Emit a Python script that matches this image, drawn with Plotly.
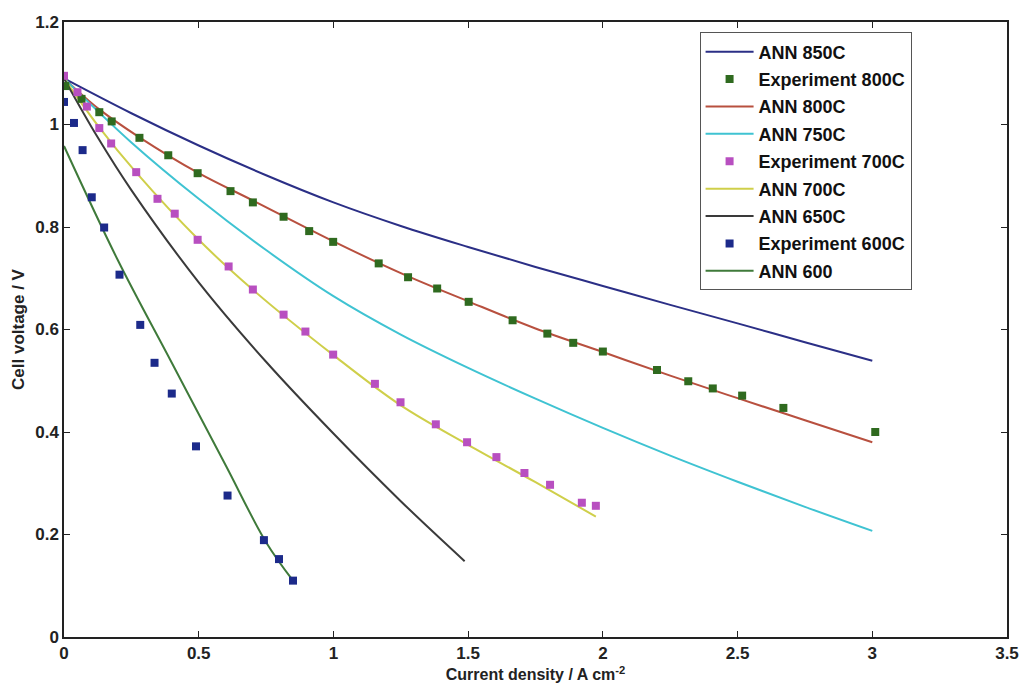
import plotly.graph_objects as go

# ---------------- data ----------------
ann850_x = [0, 0.25, 0.5, 0.75, 1.0, 1.25, 1.5, 1.75, 2.0, 2.25, 2.5, 2.75, 3.0]
ann850_y = [1.09, 1.022, 0.959, 0.901, 0.848, 0.802, 0.761, 0.722, 0.685, 0.648, 0.612, 0.575, 0.539]

exp800_x = [0.005, 0.065, 0.131, 0.177, 0.280, 0.387, 0.496, 0.618, 0.701, 0.815, 0.910, 0.999,
            1.168, 1.277, 1.385, 1.502, 1.665, 1.794, 1.890, 2.000, 2.201, 2.317, 2.408, 2.517,
            2.670, 3.011]
exp800_y = [1.075, 1.050, 1.024, 1.006, 0.974, 0.940, 0.905, 0.870, 0.848, 0.820, 0.792, 0.771,
            0.729, 0.702, 0.680, 0.654, 0.618, 0.592, 0.574, 0.557, 0.521, 0.499, 0.485, 0.471,
            0.447, 0.400]

ann800_x = [0, 0.13, 0.28, 0.5, 0.7, 1.0, 1.25, 1.5, 1.75, 2.0, 2.25, 2.5, 2.75, 3.0]
ann800_y = [1.09, 1.03, 0.975, 0.905, 0.852, 0.772, 0.710, 0.655, 0.602, 0.556, 0.510, 0.466, 0.423, 0.380]

ann750_x = [0, 0.25, 0.5, 0.75, 1.0, 1.25, 1.5, 1.75, 2.0, 2.25, 2.5, 2.75, 3.0]
ann750_y = [1.09, 0.965, 0.855, 0.755, 0.665, 0.590, 0.525, 0.465, 0.408, 0.354, 0.303, 0.254, 0.207]

exp700_x = [0.0, 0.05, 0.085, 0.131, 0.175, 0.268, 0.347, 0.411, 0.496, 0.611, 0.701, 0.815,
            0.896, 0.999, 1.154, 1.249, 1.380, 1.496, 1.605, 1.709, 1.804, 1.922, 1.974]
exp700_y = [1.095, 1.063, 1.035, 0.993, 0.963, 0.907, 0.855, 0.826, 0.775, 0.723, 0.678, 0.629,
            0.596, 0.551, 0.494, 0.458, 0.415, 0.380, 0.351, 0.320, 0.297, 0.262, 0.256]

ann700_x = [0, 0.13, 0.27, 0.5, 0.7, 1.0, 1.25, 1.5, 1.75, 1.974]
ann700_y = [1.09, 0.995, 0.905, 0.775, 0.678, 0.550, 0.452, 0.375, 0.302, 0.235]

ann650_x = [0, 0.125, 0.25, 0.5, 0.75, 1.0, 1.25, 1.487]
ann650_y = [1.09, 0.975, 0.872, 0.692, 0.537, 0.397, 0.265, 0.148]

exp600_x = [0.0, 0.037, 0.069, 0.103, 0.149, 0.206, 0.283, 0.336, 0.400, 0.490, 0.607, 0.742,
            0.798, 0.850]
exp600_y = [1.044, 1.003, 0.950, 0.858, 0.799, 0.707, 0.609, 0.535, 0.475, 0.372, 0.276, 0.189,
            0.152, 0.110]

ann600_x = [0, 0.2, 0.4, 0.6, 0.75, 0.85]
ann600_y = [0.958, 0.735, 0.535, 0.335, 0.185, 0.110]

x_ticks = [0, 0.5, 1, 1.5, 2, 2.5, 3, 3.5]
x_tick_labels = ["0", "0.5", "1", "1.5", "2", "2.5", "3", "3.5"]
y_ticks = [0, 0.2, 0.4, 0.6, 0.8, 1.0, 1.2]
y_tick_labels = ["0", "0.2", "0.4", "0.6", "0.8", "1", "1.2"]

# ---------------- figure ----------------
FONT = "Liberation Sans"
fig = go.Figure()

def add_line(x, y, name, color, rank):
    fig.add_trace(go.Scatter(x=x, y=y, mode="lines", name=name, legendgroup=name,
                             legendrank=rank,
                             line=dict(color=color, width=2, shape="spline", smoothing=1.0)))

def add_pts(x, y, name, color, rank):
    fig.add_trace(go.Scatter(x=x, y=y, mode="markers", name=name, legendgroup=name,
                             legendrank=rank,
                             marker=dict(symbol="square", size=8, color=color,
                                         line=dict(width=0))))

add_line(ann850_x, ann850_y, "ANN 850C", "#2b2f86", 1)
add_line(ann800_x, ann800_y, "ANN 800C", "#b8503f", 3)
add_line(ann750_x, ann750_y, "ANN 750C", "#3fc3d2", 4)
add_line(ann700_x, ann700_y, "ANN 700C", "#cfcf4a", 6)
add_line(ann650_x, ann650_y, "ANN 650C", "#3a3a3a", 7)
add_line(ann600_x, ann600_y, "ANN 600", "#3f7a3a", 9)
add_pts(exp800_x, exp800_y, "Experiment 800C", "#2f6a1f", 2)
add_pts(exp700_x, exp700_y, "Experiment 700C", "#b84fc0", 5)
add_pts(exp600_x, exp600_y, "Experiment 600C", "#1c2a8a", 8)

axis_common = dict(
    showgrid=False, zeroline=False, showline=True, linecolor="#222222", linewidth=1.5,
    mirror="ticks", ticks="inside", ticklen=6, tickwidth=1.2, tickcolor="#222222",
    tickfont=dict(family=FONT, size=17, color="#222222"), automargin=False,
)

fig.update_xaxes(range=[0, 3.5], tickvals=x_ticks,
                 ticktext=["<b>%s</b>" % t for t in x_tick_labels],
                 title=dict(text="<b>Current density / A cm<sup>-2</sup></b>",
                            font=dict(family=FONT, size=16, color="#222222"),
                            standoff=7),
                 **axis_common)
fig.update_yaxes(range=[0, 1.2], tickvals=y_ticks,
                 ticktext=["<b>%s</b>" % t for t in y_tick_labels],
                 title=dict(text="<b>Cell voltage / V</b>",
                            font=dict(family=FONT, size=17, color="#222222"),
                            standoff=6),
                 **axis_common)

fig.update_layout(
    width=1023, height=691,
    margin=dict(l=64, r=16, t=22, b=54),
    paper_bgcolor="white", plot_bgcolor="white",
    font=dict(family=FONT, size=17, color="#222222"),
    legend=dict(x=0.674, y=0.983, xanchor="left", yanchor="top",
                bgcolor="white", bordercolor="#555555", borderwidth=1,
                font=dict(family=FONT, size=18, color="#111111", weight="bold"),
                traceorder="grouped", tracegroupgap=1, itemwidth=48),
    showlegend=True,
)

fig.write_html("out.html")
